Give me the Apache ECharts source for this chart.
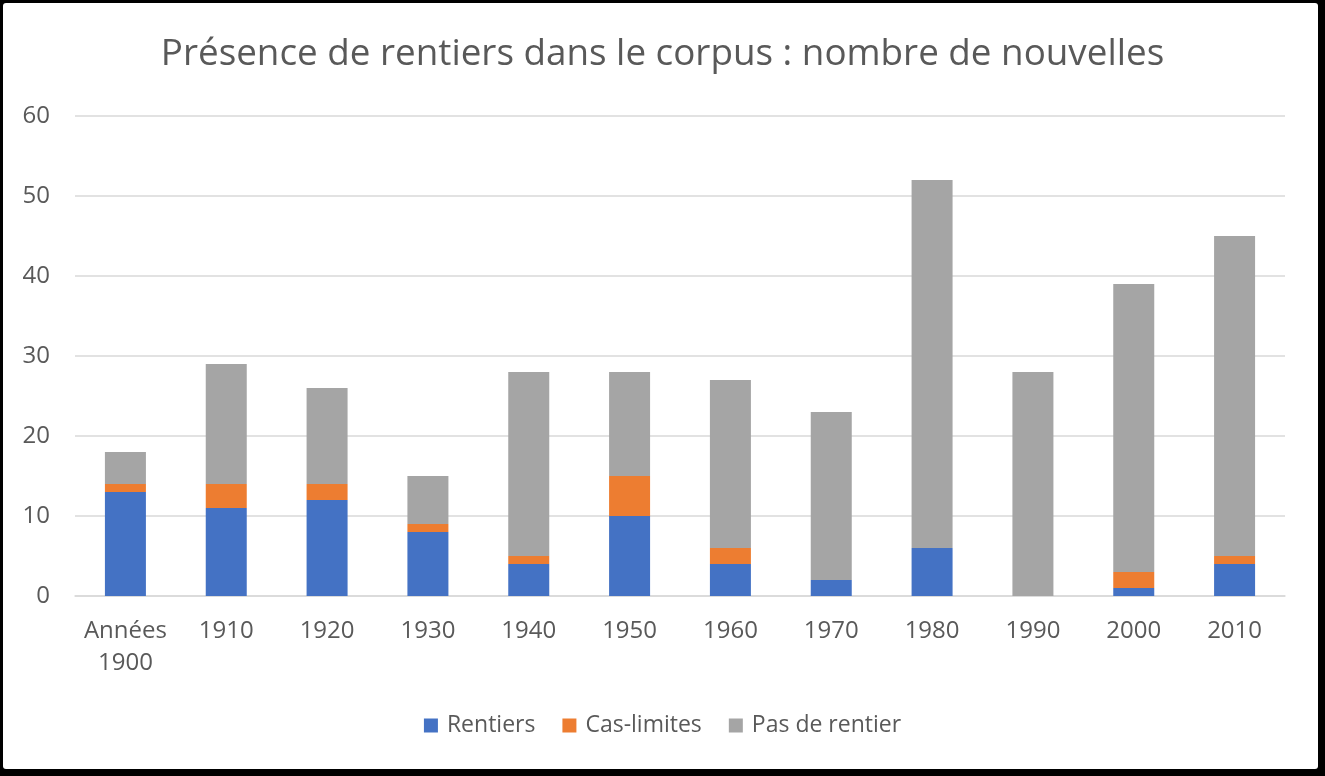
<!DOCTYPE html>
<html><head><meta charset="utf-8">
<script src="https://cdn.jsdelivr.net/npm/echarts@6/dist/echarts.min.js"></script>
<style>
html,body{margin:0;padding:0;background:#000;width:1325px;height:776px;overflow:hidden;}
#frame{position:absolute;left:3px;top:3px;width:1315px;height:766px;background:#fff;border-radius:3px;}
#chart{position:absolute;left:-3px;top:-3px;width:1325px;height:776px;}
</style></head>
<body><div id="frame"><div id="chart"></div></div>
<script>
const categories = ['Années\n1900','1910','1920','1930','1940','1950','1960','1970','1980','1990','2000','2010'];
const rentiers    = [13, 11, 12, 8, 4, 10, 4, 2, 6, 0, 1, 4];
const casLimites  = [1, 3, 2, 1, 1, 5, 2, 0, 0, 0, 2, 1];
const pasRentier  = [4, 15, 12, 6, 23, 13, 21, 21, 46, 28, 36, 40];
const yTicks = [0, 10, 20, 30, 40, 50, 60];

const font = 'Open Sans';
const chart = echarts.init(document.getElementById('chart'));
const mk = (name, data, color) => ({
  name, type: 'bar', stack: 'total', data, barWidth: 41,
  itemStyle: { color }, emphasis: { disabled: true }
});
chart.setOption({
  animation: false,
  title: { text: 'Présence de rentiers dans le corpus : nombre de nouvelles', left: 'center', top: 31,
    textStyle: { fontFamily: font, fontSize: 36.8, fontWeight: 'normal', color: '#595959' } },
  grid: { left: 75, right: 40, top: 116, bottom: 180 },
  legend: { bottom: 34, left: 'center', itemWidth: 14, itemHeight: 14, itemGap: 27, icon: 'rect',
    textStyle: { fontFamily: font, fontSize: 23, color: '#595959', padding: [0, 0, 0, 4] } },
  xAxis: { type: 'category', data: categories,
    axisLine: { lineStyle: { color: '#D9D9D9', width: 1.5 } }, axisTick: { show: false },
    axisLabel: { fontFamily: font, fontSize: 24, color: '#595959', margin: 19, lineHeight: 32, interval: 0 } },
  yAxis: { type: 'value', min: yTicks[0], max: yTicks[yTicks.length - 1], interval: 10,
    axisLine: { show: false }, axisTick: { show: false },
    splitLine: { lineStyle: { color: '#D9D9D9', width: 1.5 } },
    axisLabel: { fontFamily: font, fontSize: 24, color: '#595959', margin: 25 } },
  series: [ mk('Rentiers', rentiers, '#4472C4'), mk('Cas-limites', casLimites, '#ED7D31'), mk('Pas de rentier', pasRentier, '#A5A5A5') ]
});
</script></body></html>
